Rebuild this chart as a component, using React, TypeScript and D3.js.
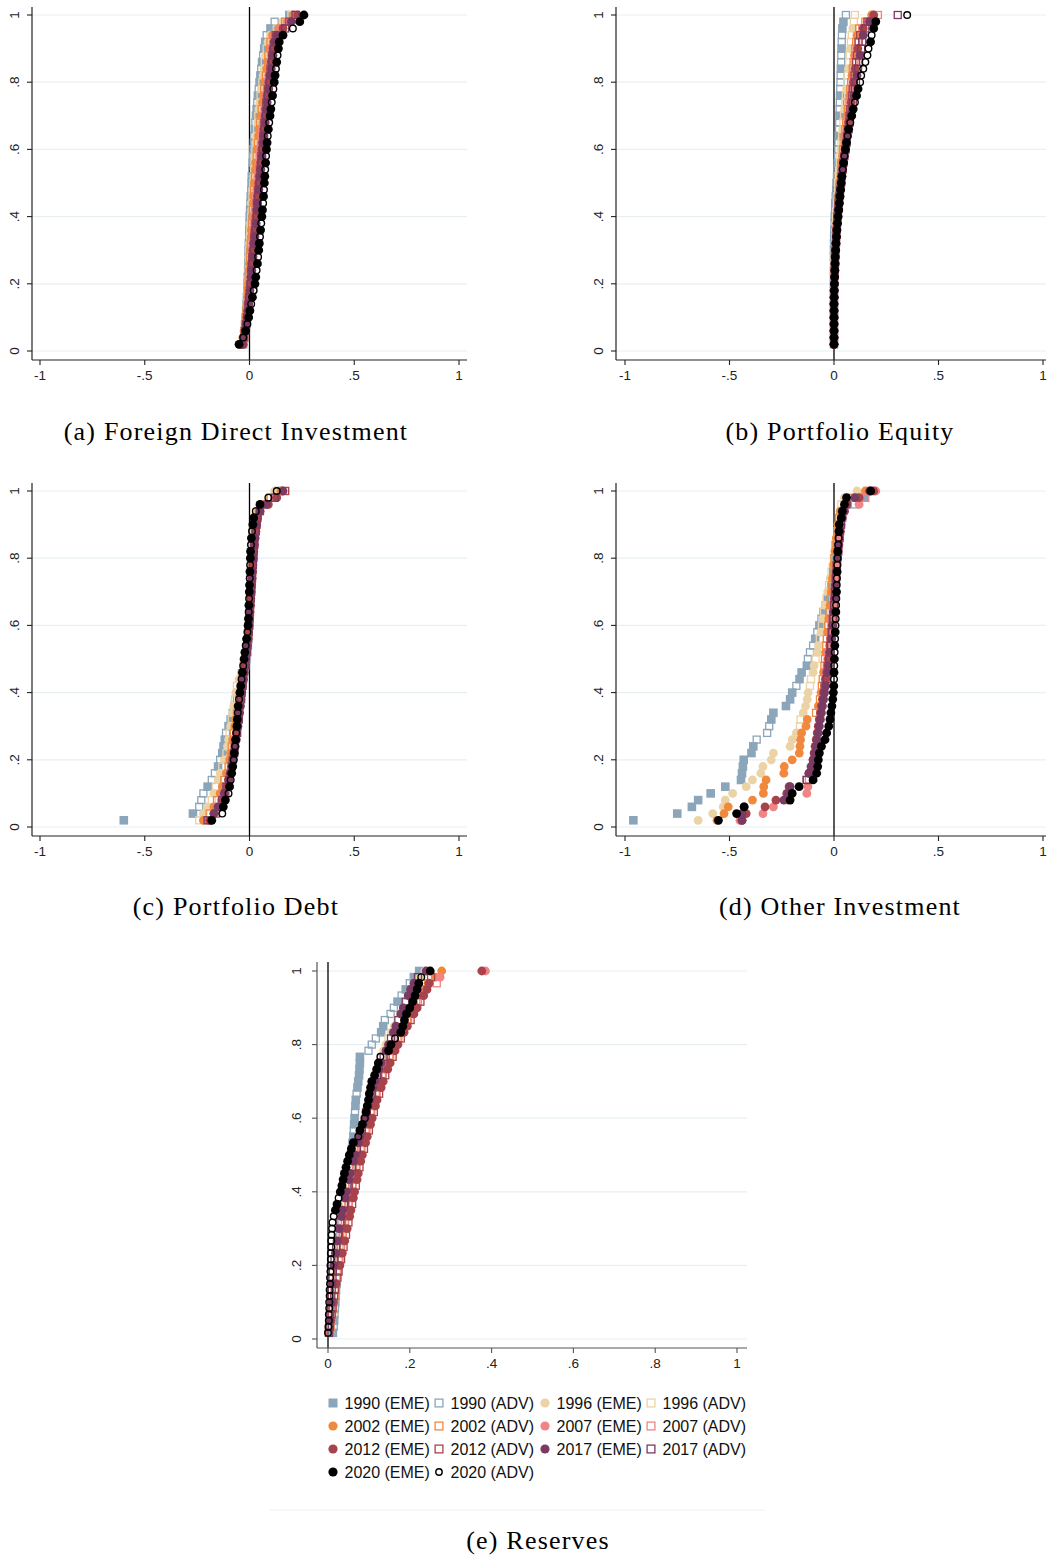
import React from "react";
import * as d3 from "d3";

// ---------- categories / styles of series ----------
const YEARS = ["1990", "1996", "2002", "2007", "2012", "2017", "2020"];
const COLORS = ["#8ba6ba", "#ebd3a6", "#f0883d", "#f18484", "#a8434b", "#7a3a62", "#000000"];
const EME_SYMBOL = ["square", "circle", "circle", "circle", "circle", "circle", "circle"];
const ADV_SYMBOL = ["square", "square", "square", "square", "square", "square", "circle"];

const X_TICKS = [-1, -0.5, 0, 0.5, 1];
const X_TICK_LABELS = ["-1", "-.5", "0", ".5", "1"];
const RES_X_TICKS = [0, 0.2, 0.4, 0.6, 0.8, 1];
const RES_X_TICK_LABELS = ["0", ".2", ".4", ".6", ".8", "1"];
const Y_TICKS = [0, 0.2, 0.4, 0.6, 0.8, 1];
const Y_TICK_LABELS = ["0", ".2", ".4", ".6", ".8", "1"];
const CAPTIONS = ["(a) Foreign Direct Investment", "(b) Portfolio Equity", "(c) Portfolio Debt", "(d) Other Investment", "(e) Reserves"];

// ---------- data: pooled country values per year (sorted), with group flags e = EME, a = ADV ----------
// (a) Foreign Direct Investment
const fdi1990 = [-.03,-.026,-.022,-.02,-.018,-.016,-.014,-.012,-.01,-.009,-.008,-.007,-.006,-.005,-.004,-.003,-.002,-.001,0,.001,.003,.004,.006,.008,.01,.011,.013,.015,.017,.019,.021,.023,.026,.028,.031,.034,.037,.04,.044,.048,.052,.056,.06,.065,.07,.075,.082,.1,.12,.19];
const fdi1996 = [-.032,-.027,-.022,-.019,-.016,-.014,-.012,-.01,-.008,-.006,-.005,-.004,-.003,-.002,-.001,0,.002,.004,.006,.008,.01,.012,.014,.016,.018,.02,.022,.024,.026,.028,.03,.033,.036,.039,.042,.045,.049,.053,.057,.061,.065,.069,.073,.077,.082,.088,.1,.13,.16,.2];
const fdi2002 = [-.04,-.032,-.026,-.022,-.018,-.015,-.012,-.01,-.008,-.006,-.004,-.002,0,.002,.004,.006,.008,.01,.012,.014,.016,.018,.02,.022,.024,.026,.028,.031,.034,.037,.04,.043,.046,.05,.054,.058,.062,.066,.07,.074,.078,.082,.086,.09,.095,.1,.11,.14,.17,.21];
const fdi2007 = [-.03,-.024,-.02,-.016,-.013,-.01,-.007,-.004,-.001,.002,.004,.006,.008,.01,.012,.014,.016,.018,.021,.024,.026,.028,.031,.034,.037,.04,.043,.046,.049,.052,.055,.058,.061,.064,.068,.072,.076,.08,.084,.088,.092,.096,.1,.104,.108,.113,.12,.15,.18,.22];
const fdi2012 = [-.03,-.025,-.02,-.016,-.012,-.008,-.005,-.002,.001,.004,.006,.008,.01,.013,.016,.019,.022,.025,.028,.031,.033,.035,.038,.041,.044,.047,.05,.053,.056,.059,.062,.065,.068,.071,.074,.077,.08,.084,.088,.092,.096,.1,.104,.108,.112,.117,.125,.16,.19,.23];
const fdi2017 = [-.035,-.028,-.022,-.017,-.012,-.008,-.004,-.001,.002,.005,.008,.011,.014,.017,.02,.023,.026,.029,.032,.035,.037,.039,.042,.045,.048,.051,.054,.057,.06,.063,.066,.069,.072,.075,.078,.081,.084,.088,.092,.096,.1,.104,.108,.112,.116,.12,.13,.17,.2,.22];
const fdi2020 = [-.05,-.03,-.018,-.01,-.004,.002,.008,.014,.02,.026,.03,.034,.038,.041,.044,.047,.05,.053,.056,.059,.062,.065,.067,.069,.071,.073,.075,.077,.079,.081,.084,.087,.09,.094,.098,.102,.106,.11,.114,.118,.122,.126,.13,.134,.138,.142,.16,.207,.24,.26];
const FDI = [fdi1990, fdi1996, fdi2002, fdi2007, fdi2012, fdi2017, fdi2020];
const FDI_GROUPS = [
  "eaeae eaeae eaeae eaeae eaeae eaeae eaeae eaeae eaeae eaeae",
  "eeaea eeaea eeaea eeaea eeaea eeaea eeaea eeaea eeaea eeaea",
  "aeeae aeeae aeeae aeeae aeeae aeeae aeeae aeeae aeeae aeeae",
  "eaeea eaeea eaeea eaeea eaeea eaeea eaeea eaeea eaeea eaeea",
  "eaeae eaeae eaeae eaeae eaeae eaeae eaeae eaeae eaeae eaeae",
  "eeaea eeaea eeaea eeaea eeaea eeaea eeaea eeaea eeaea eeaea",
  "eaeae eaeae eaeae eaeae eaeae eaeae eaeae eaeae eaeae eeaee",
];

// (b) Portfolio Equity
const pe1990 = [0,0,0,0,0,0,0,0,0,0,0,0,0,0,0,0,.001,.002,.003,.004,.005,.006,.008,.01,.012,.014,.016,.018,.02,.021,.022,.023,.024,.025,.026,.027,.028,.029,.03,.031,.032,.033,.034,.035,.036,.037,.038,.04,.045,.057];
const pe1996 = [0,0,0,0,0,0,0,0,0,.001,.001,.002,.002,.003,.004,.005,.006,.007,.008,.01,.012,.014,.016,.018,.02,.022,.025,.028,.03,.033,.036,.039,.042,.045,.048,.051,.054,.057,.06,.063,.066,.069,.072,.075,.078,.081,.085,.09,.095,.1];
const pe2002 = [0,0,0,0,0,0,0,0,.001,.002,.003,.004,.005,.006,.007,.008,.01,.012,.014,.016,.018,.02,.022,.025,.028,.031,.034,.037,.04,.043,.046,.05,.054,.058,.062,.066,.07,.074,.078,.082,.086,.09,.094,.098,.102,.106,.11,.12,.15,.18];
const pe2007 = [0,0,0,0,0,0,0,.001,.002,.003,.004,.005,.006,.007,.008,.01,.012,.014,.016,.018,.02,.023,.026,.029,.032,.035,.038,.042,.046,.05,.054,.058,.062,.066,.07,.074,.078,.082,.086,.09,.094,.098,.102,.106,.11,.115,.12,.135,.16,.21];
const pe2012 = [0,0,0,0,0,0,0,0,.001,.002,.003,.004,.005,.006,.007,.009,.011,.013,.015,.017,.02,.023,.026,.03,.034,.038,.042,.046,.05,.054,.058,.062,.066,.07,.074,.078,.082,.086,.09,.094,.098,.102,.106,.11,.114,.118,.125,.14,.16,.19];
const pe2017 = [0,0,0,0,0,0,0,0,0,.001,.002,.003,.004,.005,.006,.008,.01,.012,.014,.016,.019,.022,.025,.029,.033,.037,.041,.045,.05,.055,.06,.065,.07,.075,.08,.085,.09,.095,.1,.105,.11,.115,.12,.125,.13,.135,.14,.15,.17,.305];
const pe2020 = [0,0,0,0,0,0,0,.001,.001,.002,.003,.004,.005,.006,.008,.01,.012,.014,.017,.02,.023,.026,.029,.032,.035,.038,.042,.046,.05,.055,.06,.065,.07,.078,.085,.092,.1,.108,.115,.125,.13,.14,.15,.16,.165,.175,.18,.19,.2,.35];
const PE = [pe1990, pe1996, pe2002, pe2007, pe2012, pe2017, pe2020];
const PE_GROUPS = [
  "eeeeeeeeee eeaeeaeeae aeaaeaaeaa aeaaeaaeaa aeaaeaaeea",
  "eeeeeeeeee eeeaeeaeea eaaeaaeaae aaeaaeaaea aeaaeaaeaa",
  "eeeeeeeeee eaeeaeeaea eaeaaeaaea aeaaeaaeaa eaaeaaeaae",
  "eeeeeeeeee eeaeeaeeae aeaeaaeaae aaeaaeaaea aeaaeaaaea",
  "eeeeeeeeee eaeeaeeaee aeaeaeaeaa eaaeaaeaae aeaaeaaeae",
  "eeeeeeeeee eeeaeeaeea eaeaeaeaea aeaaeaaeaa eaaeaaeaea",
  "eeeeeeeeee eeeeeeeeee eeeeeeaeae eaeaeeaeea aaaaaeaeea",
];

// (c) Portfolio Debt
const pd1990 = [-.6,-.27,-.24,-.23,-.22,-.2,-.18,-.165,-.15,-.14,-.13,-.124,-.118,-.112,-.1,-.09,-.08,-.07,-.06,-.05,-.04,-.032,-.025,-.02,-.015,-.01,-.007,-.005,-.003,-.001,0,.001,.002,.003,.004,.005,.006,.007,.008,.01,.012,.014,.017,.02,.025,.03,.04,.07,.1,.14];
const pd1996 = [-.24,-.22,-.2,-.18,-.17,-.16,-.15,-.14,-.13,-.12,-.11,-.105,-.1,-.095,-.09,-.085,-.08,-.075,-.07,-.065,-.06,-.05,-.04,-.03,-.02,-.015,-.01,-.006,-.003,0,.002,.003,.004,.005,.006,.007,.008,.009,.01,.012,.014,.016,.018,.021,.025,.03,.04,.06,.1,.12];
const pd2002 = [-.22,-.19,-.17,-.155,-.14,-.13,-.12,-.11,-.1,-.095,-.09,-.085,-.08,-.075,-.07,-.065,-.06,-.055,-.05,-.045,-.04,-.035,-.03,-.025,-.02,-.015,-.01,-.007,-.004,-.002,0,.002,.004,.006,.008,.01,.012,.014,.016,.018,.02,.022,.025,.028,.032,.036,.045,.07,.1,.15];
const pd2007 = [-.2,-.17,-.15,-.135,-.12,-.11,-.1,-.093,-.086,-.08,-.075,-.07,-.066,-.062,-.058,-.054,-.05,-.046,-.042,-.038,-.034,-.03,-.026,-.022,-.018,-.014,-.01,-.007,-.004,-.002,0,.002,.004,.006,.008,.01,.012,.014,.016,.018,.02,.023,.026,.03,.034,.038,.05,.08,.12,.17];
const pd2012 = [-.19,-.16,-.14,-.125,-.115,-.105,-.098,-.09,-.085,-.08,-.075,-.07,-.066,-.062,-.058,-.054,-.05,-.046,-.042,-.038,-.034,-.03,-.026,-.022,-.018,-.014,-.01,-.007,-.004,-.002,0,.002,.004,.006,.008,.01,.012,.014,.016,.018,.02,.023,.026,.03,.034,.038,.05,.09,.13,.17];
const pd2017 = [-.2,-.17,-.15,-.13,-.12,-.11,-.1,-.092,-.085,-.079,-.073,-.068,-.063,-.059,-.055,-.051,-.047,-.043,-.04,-.037,-.033,-.029,-.025,-.021,-.017,-.013,-.01,-.007,-.004,-.002,0,.002,.004,.006,.008,.01,.012,.014,.016,.018,.02,.023,.026,.03,.034,.038,.05,.08,.12,.16];
const pd2020 = [-.18,-.13,-.125,-.115,-.1,-.095,-.09,-.085,-.08,-.075,-.072,-.069,-.066,-.063,-.06,-.058,-.056,-.054,-.05,-.046,-.042,-.038,-.034,-.03,-.026,-.022,-.018,-.014,-.01,-.007,-.005,-.004,-.003,-.002,-.001,0,.001,.002,.003,.004,.005,.007,.009,.012,.016,.02,.03,.05,.09,.13];
const PD = [pd1990, pd1996, pd2002, pd2007, pd2012, pd2017, pd2020];
const PD_GROUPS = [
  "eeaaaeaaea eeeaeeaeae eaeaeeaeae aeaeeaeaea eaeaeeaeae",
  "aeeae aeeae aeeae aeeae aeeae aeeae aeeae aeeae aeeae aeeae",
  "eaeae eaeae eaeae eaeae eaeae eaeae eaeae eaeae eaeae eaeae",
  "eeaea eeaea eeaea eeaea eeaea eeaea eeaea eeaea eeaea eeaea",
  "eaeea eaeea eaeea eaeea eaeea eaeea eaeea eaeea eaeea eaeea",
  "aeeae aeeae aeeae aeeae aeeae aeeae aeeae aeeae aeeae aeeae",
  "eaeeaeaeea eaeaeeaeae eaeaeeaeae eaeaeeaeae eaeaeeaeaa",
];

// (d) Other Investment
const oi1990 = [-.96,-.75,-.68,-.65,-.59,-.52,-.445,-.44,-.436,-.432,-.395,-.386,-.37,-.32,-.31,-.3,-.29,-.23,-.21,-.2,-.18,-.165,-.155,-.13,-.125,-.115,-.1,-.09,-.08,-.07,-.06,-.05,-.04,-.03,-.02,-.012,-.005,0,.004,.008,.012,.016,.02,.024,.028,.034,.045,.1,.145,.16];
const oi1996 = [-.65,-.58,-.53,-.52,-.485,-.42,-.39,-.35,-.34,-.3,-.29,-.21,-.2,-.18,-.163,-.16,-.147,-.136,-.128,-.124,-.115,-.11,-.1,-.095,-.088,-.08,-.075,-.068,-.062,-.058,-.052,-.048,-.042,-.036,-.03,-.024,-.018,-.012,-.006,0,.004,.008,.012,.016,.02,.025,.03,.035,.05,.11];
const oi2002 = [-.56,-.526,-.506,-.39,-.338,-.336,-.325,-.24,-.238,-.2,-.166,-.163,-.16,-.155,-.134,-.128,-.086,-.075,-.067,-.062,-.058,-.054,-.05,-.046,-.043,-.04,-.037,-.034,-.031,-.028,-.025,-.022,-.019,-.016,-.013,-.01,-.007,-.004,-.001,.002,.005,.008,.011,.015,.019,.024,.03,.06,.09,.15];
const oi2007 = [-.45,-.34,-.29,-.22,-.13,-.125,-.12,-.112,-.105,-.1,-.095,-.09,-.085,-.08,-.075,-.07,-.065,-.06,-.055,-.05,-.046,-.042,-.038,-.034,-.03,-.026,-.022,-.018,-.015,-.012,-.009,-.006,-.003,0,.003,.006,.009,.012,.015,.018,.021,.024,.027,.03,.034,.04,.05,.12,.15,.2];
const oi2012 = [-.44,-.42,-.33,-.278,-.226,-.215,-.13,-.12,-.107,-.1,-.095,-.09,-.085,-.08,-.075,-.07,-.065,-.06,-.055,-.05,-.045,-.04,-.035,-.03,-.026,-.022,-.018,-.015,-.012,-.009,-.006,-.003,0,.002,.004,.006,.008,.01,.013,.016,.019,.022,.025,.028,.032,.036,.045,.06,.12,.19];
const oi2017 = [-.44,-.44,-.43,-.24,-.22,-.21,-.131,-.12,-.11,-.1,-.093,-.087,-.081,-.075,-.07,-.065,-.06,-.055,-.05,-.045,-.04,-.035,-.03,-.026,-.022,-.018,-.014,-.011,-.008,-.005,-.002,0,.002,.004,.006,.008,.01,.012,.014,.017,.02,.023,.026,.03,.034,.04,.05,.06,.1,.17];
const oi2020 = [-.553,-.466,-.43,-.21,-.2,-.167,-.1,-.083,-.078,-.075,-.07,-.06,-.043,-.035,-.025,-.019,-.015,-.01,-.006,-.003,-.001,0,0,.001,.002,.003,.004,.005,.006,.007,.008,.009,.01,.011,.012,.013,.014,.015,.016,.017,.018,.02,.022,.024,.025,.035,.04,.05,.06,.176];
const OI = [oi1990, oi1996, oi2002, oi2007, oi2012, oi2017, oi2020];
const OI_GROUPS = [
  "eeeeeeeeee eeaaaeeeee aeeeaaaeae aeaeaeaeae aeaeaeaaea",
  "eeeeeeeeee eeeeaaeeee aaeeaeeaea eaeaeaeaea eaeaeaeaee",
  "eeeeeeeeee eeeeeeaeae aaeaaeaaea eaeaeaeaea eaeaeaeeae",
  "eeeeeeaeee eeeeeeaeea eeaeeaeaea eaeaeaeaea eaeaeaeeae",
  "eeeeeeaeee eeeeeeeeee aeeaeeaeae aeaeaeaeae aeaeaeeeee",
  "eeeeeeaeee eeeeeeeeee eaeeaeaeae aeaeaeaeae aeaeaeeaee",
  "eeeeeeeeee eeeeeeeeee eaeaeaeaea aeaaeaaeaa eaaeeeeeee",
];

// (e) Reserves
const res1990 = [.012,.014,.015,.016,.017,.018,.019,.02,.021,.022,.023,.024,.025,.026,.027,.028,.03,.032,.034,.036,.038,.04,.042,.044,.046,.048,.05,.052,.054,.056,.058,.06,.062,.063,.064,.065,.066,.067,.068,.07,.072,.074,.076,.077,.078,.078,.099,.107,.117,.13,.135,.139,.153,.161,.17,.18,.19,.2,.21,.223];
const res1996 = [.005,.007,.009,.01,.012,.013,.015,.016,.018,.019,.021,.022,.024,.026,.028,.03,.032,.034,.036,.038,.041,.044,.047,.05,.053,.056,.059,.062,.065,.068,.071,.074,.077,.08,.084,.088,.092,.096,.1,.104,.108,.112,.116,.12,.125,.13,.136,.142,.148,.155,.162,.17,.177,.185,.192,.2,.207,.215,.225,.237];
const res2002 = [.004,.006,.008,.01,.012,.014,.016,.018,.02,.022,.024,.026,.028,.03,.032,.034,.036,.038,.041,.044,.047,.05,.053,.056,.059,.062,.065,.068,.072,.076,.08,.084,.088,.092,.096,.1,.104,.108,.112,.117,.122,.127,.132,.138,.144,.15,.156,.163,.17,.177,.185,.193,.2,.208,.216,.225,.233,.245,.262,.278];
const res2007 = [.003,.005,.007,.009,.011,.013,.015,.017,.019,.021,.023,.025,.027,.029,.031,.033,.036,.039,.042,.045,.048,.051,.054,.057,.06,.063,.066,.07,.074,.078,.082,.086,.09,.094,.098,.102,.106,.11,.114,.119,.124,.129,.134,.14,.146,.152,.158,.165,.172,.18,.188,.196,.204,.212,.22,.23,.24,.266,.274,.385];
const res2012 = [.003,.005,.007,.009,.011,.013,.015,.017,.02,.023,.026,.029,.032,.035,.038,.041,.044,.047,.05,.053,.056,.059,.062,.065,.068,.071,.074,.077,.08,.084,.088,.092,.096,.1,.104,.108,.112,.116,.12,.125,.13,.135,.14,.146,.152,.158,.164,.171,.178,.186,.194,.202,.21,.218,.226,.234,.242,.247,.252,.376];
const res2017 = [.002,.003,.004,.005,.006,.007,.008,.009,.01,.011,.012,.014,.016,.018,.02,.022,.024,.027,.03,.033,.036,.039,.042,.045,.048,.051,.054,.058,.062,.066,.07,.074,.078,.082,.086,.09,.094,.098,.102,.106,.11,.115,.12,.125,.13,.136,.142,.148,.154,.16,.166,.172,.178,.184,.19,.196,.202,.21,.22,.24];
const res2020 = [0,.001,.002,.002,.003,.003,.004,.004,.005,.005,.006,.006,.007,.007,.008,.008,.009,.01,.011,.014,.018,.022,.026,.03,.034,.037,.04,.044,.048,.052,.057,.062,.074,.078,.084,.09,.093,.096,.099,.101,.104,.107,.114,.119,.123,.128,.148,.154,.164,.178,.183,.187,.192,.2,.207,.213,.218,.222,.228,.25];
const RES = [res1990, res1996, res2002, res2007, res2012, res2017, res2020];
const RES_GROUPS = [
  "eaeaaeaaea aeaeaeaeae eaeeaeeaee aeeaeeaeea eeeeeeaaae eaaaeaeaee",
  "aaeaaeaaea aeaeaeaeae eaeeaeeaee aeeaeeaeea eeaeeaeeae eaeeaeeaee",
  "aaeaaeaaea aeaeaeaeae eaeeaeeaee aeeaeeaeea eeaeeaeeae eaeeaeeaee",
  "aaeaaeaaea aeaeaeaeae eaeeaeeaee aeeaeeaeea eeaeeaeeae eaeeaeeaee",
  "aaeaaeaaea aeaeaeaeae eaeeaeeaee aeeaeeaeea eeaeeaeeae eaeeaeeeae",
  "aaeaaeaaea aeaeaeaeae eaeeaeeaee aeeaeeaeea eeaeeaeeae eaeeaeeeae",
  "aaaaaaaaaa aaaaaaaaaa eeaeeeeeee eeaeeaeeee eeeeeaeeae eeeeeeeeae",
];

// ---------- helpers ----------
type Pt = { x: number; y: number; g: string };
function pooledRanks(values: number[], groups: string): Pt[] {
  const f = groups.replace(/\s/g, "");
  const items = values.map((v, i) => ({ v, g: f[i] === "a" ? "a" : "e" }));
  items.sort((p, q) => p.v - q.v);
  const n = items.length;
  return items.map((it, i) => ({ x: it.v, y: (i + 1) / n, g: it.g }));
}

function Marker(props: { shape: string; filled: boolean; color: string; cx: number; cy: number; legend?: boolean }) {
  const { shape, filled, color, cx, cy, legend } = props;
  if (shape === "square") {
    if (filled) {
      const s = legend ? 9 : 8.6;
      return <rect x={cx - s / 2} y={cy - s / 2} width={s} height={s} fill={color} />;
    }
    const s = legend ? 7.8 : 7;
    return <rect x={cx - s / 2} y={cy - s / 2} width={s} height={s} fill="none" stroke={color} strokeWidth={1.3} />;
  }
  if (filled) return <circle cx={cx} cy={cy} r={legend ? 4.6 : 4.4} fill={color} />;
  return <circle cx={cx} cy={cy} r={legend ? 3.2 : 3.3} fill="none" stroke={color} strokeWidth={1.4} />;
}

type PanelCfg = {
  data: number[][];
  groups: string[];
  xDomain: [number, number];
  xRange: [number, number];
  axisLeft: number;
  axisRight: number;
  yRange: [number, number];
  top: number;
  bottom: number;
  xTicks: number[];
  xTickLabels: string[];
  yLabelOffset: number;
  caption: string;
  capX: number;
  capY: number;
  axisColor: string;
};

const TICK_FONT = "'Liberation Sans', Arial, sans-serif";
const CAP_FONT = "'Liberation Serif', 'Times New Roman', serif";

function Panel({ cfg }: { cfg: PanelCfg }) {
  const x = d3.scaleLinear().domain(cfg.xDomain).range(cfg.xRange);
  const y = d3.scaleLinear().domain([0, 1]).range(cfg.yRange);
  const series = cfg.data.map((vals, k) => pooledRanks(vals, cfg.groups[k]));
  return (
    <g>
      {Y_TICKS.map((t) => (
        <line key={"g" + t} x1={cfg.axisLeft} x2={cfg.axisRight} y1={y(t)} y2={y(t)} stroke="#e8f0f2" strokeWidth={1.2} />
      ))}
      <line x1={x(0)} x2={x(0)} y1={cfg.top} y2={cfg.bottom} stroke="#000" strokeWidth={1.3} />
      {series.map((pts, k) => (
        <g key={"s" + k}>
          {pts.filter((p) => p.g === "e").map((p, i) => (
            <Marker key={"e" + i} shape={EME_SYMBOL[k]} filled={true} color={COLORS[k]} cx={x(p.x)} cy={y(p.y)} />
          ))}
          {pts.filter((p) => p.g === "a").map((p, i) => (
            <Marker key={"a" + i} shape={ADV_SYMBOL[k]} filled={false} color={COLORS[k]} cx={x(p.x)} cy={y(p.y)} />
          ))}
        </g>
      ))}
      <line x1={cfg.axisLeft} x2={cfg.axisLeft} y1={cfg.top} y2={cfg.bottom} stroke={cfg.axisColor} strokeWidth={1.2} />
      <line x1={cfg.axisLeft} x2={cfg.axisRight} y1={cfg.bottom} y2={cfg.bottom} stroke={cfg.axisColor} strokeWidth={1.2} />
      {Y_TICKS.map((t, i) => (
        <g key={"yt" + t}>
          <line x1={cfg.axisLeft - 5} x2={cfg.axisLeft} y1={y(t)} y2={y(t)} stroke={cfg.axisColor} strokeWidth={1.1} />
          <text
            transform={`translate(${cfg.axisLeft - cfg.yLabelOffset},${y(t)}) rotate(-90)`}
            textAnchor="middle"
            dy="0.35em"
            fontFamily={TICK_FONT}
            fontSize={13.5}
            fill="#222"
          >
            {Y_TICK_LABELS[i]}
          </text>
        </g>
      ))}
      {cfg.xTicks.map((t, i) => (
        <g key={"xt" + t}>
          <line x1={x(t)} x2={x(t)} y1={cfg.bottom} y2={cfg.bottom + 5} stroke={cfg.axisColor} strokeWidth={1.1} />
          <text x={x(t)} y={cfg.bottom + 20} textAnchor="middle" fontFamily={TICK_FONT} fontSize={13.5} fill="#222">
            {cfg.xTickLabels[i]}
          </text>
        </g>
      ))}
      <text x={cfg.capX} y={cfg.capY} textAnchor="middle" fontFamily={CAP_FONT} fontSize={26} letterSpacing={1.2} fill="#000">
        {cfg.caption}
      </text>
    </g>
  );
}

function Legend() {
  const colX = [333, 439, 545, 651];
  const rowY = [1403, 1426, 1449, 1472];
  const items: { k: number; adv: boolean }[] = [];
  YEARS.forEach((_, k) => {
    items.push({ k, adv: false });
    items.push({ k, adv: true });
  });
  return (
    <g>
      {items.map((it, i) => {
        const cx = colX[i % 4];
        const cy = rowY[Math.floor(i / 4)];
        const shape = it.adv ? ADV_SYMBOL[it.k] : EME_SYMBOL[it.k];
        return (
          <g key={"l" + i}>
            <Marker shape={shape} filled={!it.adv} color={COLORS[it.k]} cx={cx} cy={cy} legend={true} />
            <text x={cx + 11.5} y={cy + 5.8} fontFamily={TICK_FONT} fontSize={16} fill="#111">
              {`${YEARS[it.k]} (${it.adv ? "ADV" : "EME"})`}
            </text>
          </g>
        );
      })}
    </g>
  );
}

export default function App() {
  const left = { xRange: [40, 459] as [number, number], axisLeft: 32, axisRight: 467, capX: 236 };
  const right = { xRange: [625, 1043] as [number, number], axisLeft: 616, axisRight: 1046, capX: 840 };
  const row1 = { yRange: [351, 15] as [number, number], top: 7, bottom: 360, capY: 440 };
  const row2 = { yRange: [827, 491] as [number, number], top: 483, bottom: 836, capY: 915 };
  const common = { xDomain: [-1, 1] as [number, number], xTicks: X_TICKS, xTickLabels: X_TICK_LABELS, yLabelOffset: 18, axisColor: "#222" };
  const panels: PanelCfg[] = [
    { ...common, ...left, ...row1, data: FDI, groups: FDI_GROUPS, caption: CAPTIONS[0] },
    { ...common, ...right, ...row1, data: PE, groups: PE_GROUPS, caption: CAPTIONS[1] },
    { ...common, ...left, ...row2, data: PD, groups: PD_GROUPS, caption: CAPTIONS[2] },
    { ...common, ...right, ...row2, data: OI, groups: OI_GROUPS, caption: CAPTIONS[3] },
    {
      data: RES, groups: RES_GROUPS, xDomain: [0, 1], xRange: [328, 737], axisLeft: 317, axisRight: 747,
      yRange: [1339, 971], top: 962, bottom: 1348, xTicks: RES_X_TICKS, xTickLabels: RES_X_TICK_LABELS,
      yLabelOffset: 21, caption: CAPTIONS[4], capX: 538, capY: 1549, axisColor: "#555",
    },
  ];
  return (
    <svg width={1047} height={1558} style={{ position: "absolute", left: 0, top: 0, background: "#fff" }}>
      <rect x={0} y={0} width={1047} height={1558} fill="#fff" />
      {panels.map((p, i) => (
        <Panel key={i} cfg={p} />
      ))}
      <line x1={270} x2={765} y1={1510} y2={1510} stroke="#eeeeee" strokeWidth={1} />
      <Legend />
    </svg>
  );
}
